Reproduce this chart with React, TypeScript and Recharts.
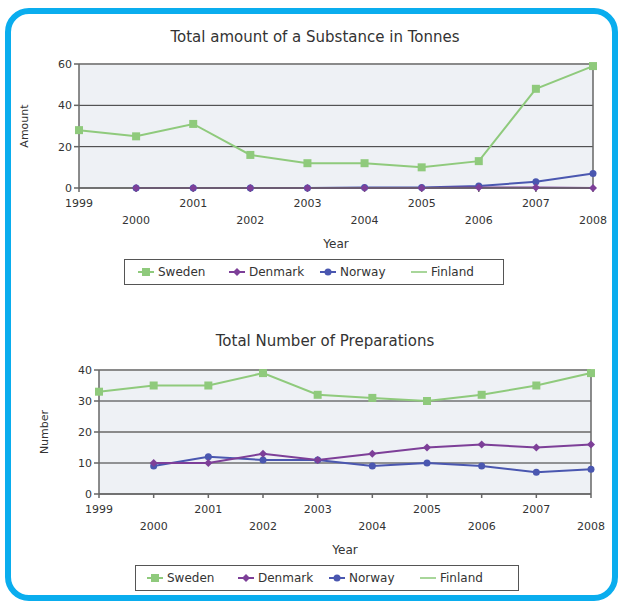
import { LineChart, Line, XAxis, YAxis, CartesianGrid, ReferenceLine, Legend } from 'recharts'

const years = ['1999', '2000', '2001', '2002', '2003', '2004', '2005', '2006', '2007', '2008']

// Total amount of a substance (tonnes)
const swedenAmount = [28, 25, 31, 16, 12, 12, 10, 13, 48, 59]
const denmarkAmount = [null, 0, 0, 0, 0, 0, 0, 0.3, 0.3, 0]
const norwayAmount = [null, 0, 0, 0, 0, 0.3, 0.3, 1, 3, 7]
const finlandAmount = [null, null, null, null, null, null, null, null, null, null]

// Total number of preparations
const swedenPreps = [33, 35, 35, 39, 32, 31, 30, 32, 35, 39]
const denmarkPreps = [null, 10, 10, 13, 11, 13, 15, 16, 15, 16]
const norwayPreps = [null, 9, 12, 11, 11, 9, 10, 9, 7, 8]
const finlandPreps = [null, null, null, null, null, null, null, null, null, null]

const amountTicks = [0, 20, 40, 60]
const prepTicks = [0, 10, 20, 30, 40]

const COLORS = {
    sweden: '#8fca7c',
    denmark: '#7d3f98',
    norway: '#4a57b0',
    finland: '#a8d69a',
}

const FONT = '"DejaVu Sans", Verdana, sans-serif'
const TEXT = '#333'

const amountData = years.map((y, i) => ({
    year: y,
    Sweden: swedenAmount[i],
    Denmark: denmarkAmount[i],
    Norway: norwayAmount[i],
    Finland: finlandAmount[i],
}))

const prepData = years.map((y, i) => ({
    year: y,
    Sweden: swedenPreps[i],
    Denmark: denmarkPreps[i],
    Norway: norwayPreps[i],
    Finland: finlandPreps[i],
}))

const squareDot = (color: string) => (props: any) => {
    const { cx, cy, index } = props
    if (cx == null || cy == null) return <g key={index} />
    return <rect key={index} x={cx - 4} y={cy - 4} width={8} height={8} fill={color} />
}

const diamondDot = (color: string) => (props: any) => {
    const { cx, cy, index } = props
    if (cx == null || cy == null) return <g key={index} />
    return (
        <polygon
            key={index}
            points={`${cx},${cy - 4} ${cx + 4},${cy} ${cx},${cy + 4} ${cx - 4},${cy}`}
            fill={color}
        />
    )
}

const roundDot = (color: string) => (props: any) => {
    const { cx, cy, index } = props
    if (cx == null || cy == null) return <g key={index} />
    return <circle key={index} cx={cx} cy={cy} r={3.5} fill={color} />
}

const YearTick = (props: any) => {
    const { x, y, payload } = props
    const idx = years.indexOf(String(payload.value))
    const dy = idx % 2 === 0 ? 13 : 30
    return (
        <text x={x} y={y + dy} textAnchor="middle" fontSize={11} fill={TEXT} fontFamily={FONT}>
            {payload.value}
        </text>
    )
}

const legendItems = [
    { name: 'Sweden', color: COLORS.sweden, shape: 'square' },
    { name: 'Denmark', color: COLORS.denmark, shape: 'diamond' },
    { name: 'Norway', color: COLORS.norway, shape: 'circle' },
    { name: 'Finland', color: COLORS.finland, shape: 'none' },
]

const LegendBox = ({ pad }: { pad: number }) => (
    <div
        style={{
            display: 'flex',
            alignItems: 'center',
            height: 26,
            border: '1px solid #555',
            background: '#fff',
            boxSizing: 'border-box',
            paddingLeft: pad,
            fontFamily: FONT,
            fontSize: 12,
            color: TEXT,
        }}
    >
        {legendItems.map((it) => (
            <span key={it.name} style={{ display: 'flex', alignItems: 'center', width: 91 }}>
                <svg width={18} height={10} style={{ marginRight: 3 }}>
                    <line x1={1} y1={5} x2={17} y2={5} stroke={it.color} strokeWidth={2} />
                    {it.shape === 'square' && <rect x={5} y={1} width={8} height={8} fill={it.color} />}
                    {it.shape === 'diamond' && <polygon points="9,1 13,5 9,9 5,5" fill={it.color} />}
                    {it.shape === 'circle' && <circle cx={9} cy={5} r={3.5} fill={it.color} />}
                </svg>
                {it.name}
            </span>
        ))}
    </div>
)

interface PanelProps {
    data: any[]
    height: number
    plotTop: number
    plotLeft: number
    plotRight: number
    plotBottom: number
    ticks: number[]
    max: number
    yLabel: string
    lightLines: number[]
    legendLeft: number
    legendTop: number
    legendWidth: number
    legendPad: number
}

function Panel(p: PanelProps) {
    const yAxisWidth = 60
    const xAxisHeight = 60
    return (
        <LineChart
            width={621}
            height={p.height}
            data={p.data}
            margin={{
                top: p.plotTop,
                left: p.plotLeft - yAxisWidth,
                right: 621 - p.plotRight,
                bottom: p.height - p.plotBottom - xAxisHeight,
            }}
        >
            <CartesianGrid vertical={false} stroke="#333" fill="#eef1f5" fillOpacity={1} />
            {p.lightLines.map((v) => (
                <ReferenceLine key={v} y={v} stroke="#8a8a8a" strokeWidth={2} />
            ))}
            <ReferenceLine x="2008" stroke="#666" strokeWidth={1.5} />
            <XAxis
                dataKey="year"
                interval={0}
                height={xAxisHeight}
                tick={<YearTick />}
                tickSize={4}
                stroke="#666"
                strokeWidth={1.5}
                label={{ value: 'Year', position: 'insideBottom', offset: 0, fontSize: 12, fill: TEXT, fontFamily: FONT }}
            />
            <YAxis
                domain={[0, p.max]}
                ticks={p.ticks}
                width={yAxisWidth}
                tickSize={5}
                stroke="#666"
                strokeWidth={1.5}
                tick={{ fontSize: 11, fill: TEXT, fontFamily: FONT }}
                label={{
                    value: p.yLabel,
                    angle: -90,
                    position: 'insideLeft',
                    fontSize: 11,
                    fill: TEXT,
                    fontFamily: FONT,
                    style: { textAnchor: 'middle' },
                }}
            />
            <Line dataKey="Sweden" stroke={COLORS.sweden} strokeWidth={2} dot={squareDot(COLORS.sweden)} isAnimationActive={false} />
            <Line dataKey="Finland" stroke={COLORS.finland} strokeWidth={2} dot={false} isAnimationActive={false} />
            <Line dataKey="Norway" stroke={COLORS.norway} strokeWidth={2} dot={roundDot(COLORS.norway)} isAnimationActive={false} />
            <Line dataKey="Denmark" stroke={COLORS.denmark} strokeWidth={2} dot={diamondDot(COLORS.denmark)} isAnimationActive={false} />
            <Legend
                layout="horizontal"
                verticalAlign="middle"
                align="center"
                content={<LegendBox pad={p.legendPad} />}
                wrapperStyle={{ left: p.legendLeft, top: p.legendTop, width: p.legendWidth, height: 26 }}
            />
        </LineChart>
    )
}

const titleStyle = (top: number, center: number) => ({
    position: 'absolute' as const,
    top,
    left: center - 300,
    width: 600,
    textAlign: 'center' as const,
    fontFamily: FONT,
    fontSize: 15,
    color: TEXT,
    zIndex: 2,
})

export default function App() {
    return (
        <div style={{ position: 'absolute', left: 0, top: 0, width: 621, height: 603, background: '#fff' }}>
            <div
                style={{
                    position: 'absolute',
                    left: 5,
                    top: 8,
                    width: 613,
                    height: 593,
                    border: '6px solid #0aadee',
                    borderRadius: 24,
                    boxSizing: 'border-box',
                }}
            />
            <div style={titleStyle(28, 315)}>Total amount of a Substance in Tonnes</div>
            <div style={{ position: 'absolute', left: 0, top: 0 }}>
                <Panel
                    data={amountData}
                    height={300}
                    plotTop={64}
                    plotLeft={79}
                    plotRight={593}
                    plotBottom={188}
                    ticks={amountTicks}
                    max={60}
                    yLabel="Amount"
                    lightLines={[60]}
                    legendLeft={124}
                    legendTop={259}
                    legendWidth={380}
                    legendPad={12}
                />
            </div>
            <div style={titleStyle(332, 325)}>Total Number of Preparations</div>
            <div style={{ position: 'absolute', left: 0, top: 300 }}>
                <Panel
                    data={prepData}
                    height={303}
                    plotTop={70}
                    plotLeft={99}
                    plotRight={591}
                    plotBottom={194}
                    ticks={prepTicks}
                    max={40}
                    yLabel="Number"
                    lightLines={[20, 40]}
                    legendLeft={135}
                    legendTop={265}
                    legendWidth={384}
                    legendPad={10}
                />
            </div>
        </div>
    )
}
